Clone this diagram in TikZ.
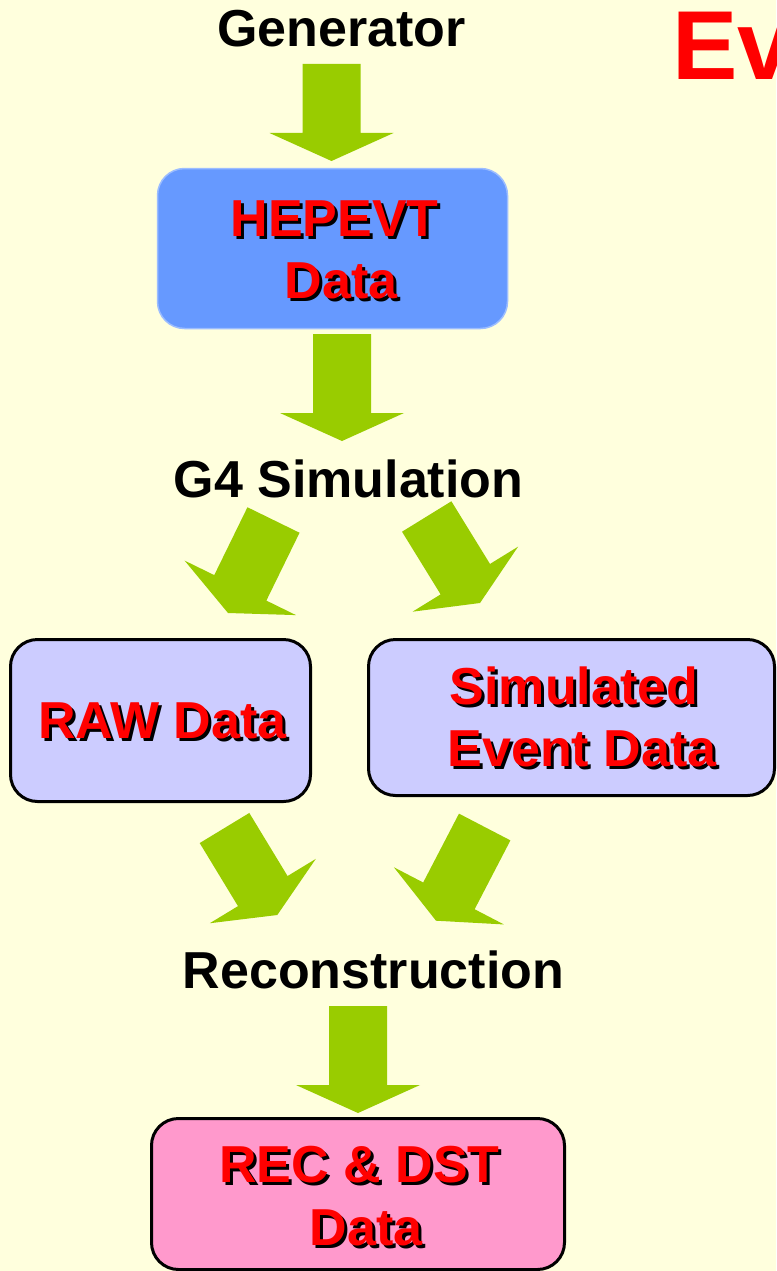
\documentclass[tikz,border=0pt]{standalone}
\usepackage{fontspec}
\setmainfont{Liberation Sans}
\usetikzlibrary{calc}

\definecolor{paper}{HTML}{FFFFDD}
\definecolor{flowgreen}{HTML}{99CC00}
\definecolor{hepblue}{HTML}{6699FF}
\definecolor{lilac}{HTML}{CCCCFF}
\definecolor{pinkbox}{HTML}{FF99CC}
\definecolor{titlered}{HTML}{FF0000}

% broad block arrow from a tail coordinate to a tip coordinate
\newcommand\flowarrow[2]{%
  \coordinate (hb) at ($(#2)!28pt!(#1)$);
  \fill[flowgreen] ($(#1)!29pt!90:(#2)$) -- ($(hb)!29pt!90:(#2)$)
    -- ($(hb)!62pt!90:(#2)$) -- (#2) -- ($(hb)!62pt!-90:(#2)$)
    -- ($(hb)!29pt!-90:(#2)$) -- ($(#1)!29pt!-90:(#2)$) -- cycle;}

% red caption text over a black drop shadow, set as one box
\newcommand\dropcast[1]{%
  \leavevmode\rlap{\kern3pt\raisebox{-3pt}{\color{black}#1}}#1}

\begin{document}
\begin{tikzpicture}[x=1pt, y=-1pt,
  steplabel/.style={anchor=base, inner sep=0pt, text=black,
    font=\bfseries\fontsize{52}{52}\selectfont},
  boxword/.style={anchor=base, inner sep=0pt, text=titlered,
    font=\bfseries\fontsize{52}{52}\selectfont},
  databox/.style={rectangle, rounded corners=27pt, inner sep=0pt,
    draw=black, line width=3pt}]

\fill[paper] (0,0) rectangle (776,1271);
\useasboundingbox (0,0) rectangle (776,1271);

% stage labels
\node[steplabel] (gen) at (341.5,47) {Generator};
\node[steplabel] (g4) at (348.5,497) {G4 Simulation};
\node[steplabel] (reco) at (373.5,988) {Reconstruction};

% title
\node[anchor=base west, inner sep=0pt, text=titlered,
  font=\bfseries\fontsize{98}{98}\selectfont] (title) at (672,80) {Ev};

% data boxes
\node[databox, fill=hepblue, draw=hepblue!65!white, line width=1.5pt,
  minimum width=350pt, minimum height=160pt] (hep) at (332.5,248.5) {};
\node[databox, fill=lilac, minimum width=300pt, minimum height=162pt]
  (raw) at (160.5,720.5) {};
\node[databox, fill=lilac, minimum width=406pt, minimum height=156pt]
  (sim) at (571.5,717.5) {};
\node[databox, fill=pinkbox, minimum width=413pt, minimum height=151pt]
  (rec) at (358,1194) {};

% arrow ends
\coordinate (a1t) at (331.5,64);   \coordinate (a1h) at (331.5,161);
\coordinate (a2t) at (342,334);    \coordinate (a2h) at (342,441);
\coordinate (a3t) at (273.5,520);  \coordinate (a3h) at (228,613);
\coordinate (a4t) at (426.7,516.5);\coordinate (a4h) at (480,603);
\coordinate (a5t) at (224.5,828);  \coordinate (a5h) at (277.3,915);
\coordinate (a6t) at (484.7,827);  \coordinate (a6h) at (436,920.7);
\coordinate (a7t) at (358,1006);   \coordinate (a7h) at (358,1113);

\flowarrow{a1t}{a1h}
\flowarrow{a2t}{a2h}
\flowarrow{a3t}{a3h}
\flowarrow{a4t}{a4h}
\flowarrow{a5t}{a5h}
\flowarrow{a6t}{a6h}
\flowarrow{a7t}{a7h}

% box captions
\node[boxword] (hepA) at (334.5,236)  {\dropcast{HEPEVT}};
\node[boxword] (hepB) at (341,298)    {\dropcast{Data}};
\node[boxword] (rawA) at (162.5,738)  {\dropcast{RAW Data}};
\node[boxword] (simA) at (574,704)    {\dropcast{Simulated}};
\node[boxword] (simB) at (582,766)    {\dropcast{Event Data}};
\node[boxword] (recA) at (359.5,1182) {\dropcast{REC \& DST}};
\node[boxword] (recB) at (366,1245)   {\dropcast{Data}};

\end{tikzpicture}
\end{document}
